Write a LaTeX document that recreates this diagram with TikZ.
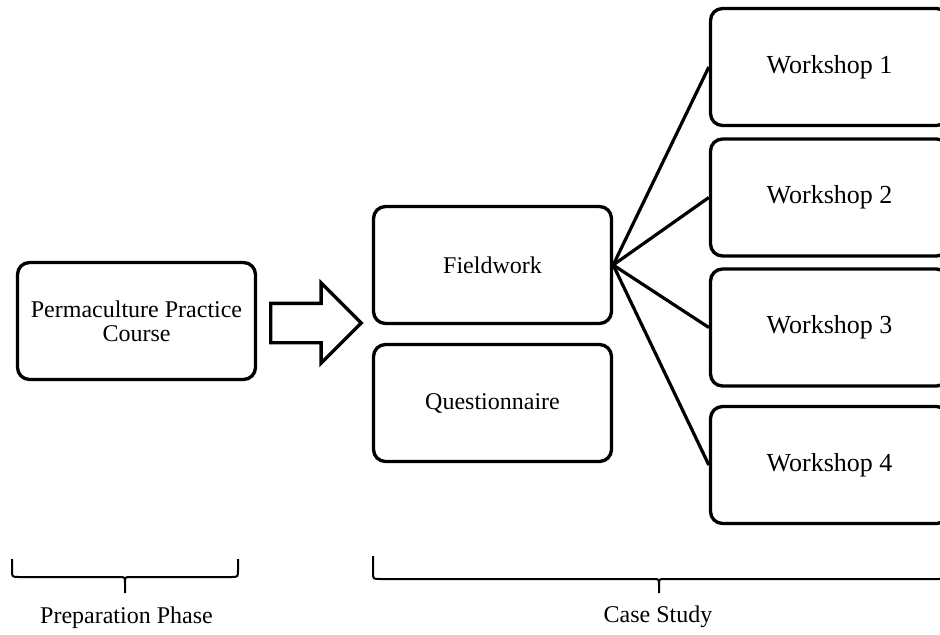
\documentclass[tikz,border=0pt]{standalone}
\usepackage{fontspec}
\setmainfont{Liberation Serif}
\usetikzlibrary{shapes.arrows}

\begin{document}
\begin{tikzpicture}[
  x=0.75pt,y=-0.75pt,
  font=\fontsize{18}{18}\selectfont,
  box/.style={draw=black,line width=2.5pt,rounded corners=9pt,align=center,
              minimum width=178.5pt,minimum height=87.75pt,inner sep=2pt},
  wsbox/.style={box,font=\fontsize{19.5}{19.5}\selectfont},
  link/.style={draw=black,line width=2.4pt},
  phase/.style={draw=black,line width=1.5pt},
  bigarrow/.style={single arrow,draw=black,line width=2.5pt,
                   inner xsep=0pt,inner ysep=13.5pt,
                   minimum height=68pt,single arrow head extend=15.4pt},
]
\useasboundingbox (0,0) rectangle (940,635);

% ---- boxes ----------------------------------------------------------------
\node[box] (course) at (136.5,321) {Permaculture Practice\\Course};
\node[bigarrow,anchor=tail] (step) at (269,323) {};

\node[box] (fw) at (492.5,265) {Fieldwork};
\node[box] (qs) at (492.5,403) {Questionnaire};

\node[wsbox] (ws1) at (829.5,67)    {Workshop 1};
\node[wsbox] (ws2) at (829.5,197.5) {Workshop 2};
\node[wsbox] (ws3) at (829.5,327.5) {Workshop 3};
\node[wsbox] (ws4) at (829.5,465)   {Workshop 4};

% ---- fan out from fieldwork -----------------------------------------------
\foreach \w in {ws1,ws2,ws3,ws4}
  \draw[link] (fw.east) -- (\w.west);

% ---- phase braces -----------------------------------------------------------
\draw[phase] (12,559) -- (12,570) .. controls (12,577) .. (19,577) -- (119,577)
  .. controls (125,577) .. (125,583) -- (125,593) -- (125,583)
  .. controls (125,577) .. (131,577) -- (231,577) .. controls (238,577) .. (238,570) -- (238,559);
\draw[phase] (373,556) -- (373,572) .. controls (373,579) .. (380,579) -- (653,579)
  .. controls (659,579) .. (659,585) -- (659,593) -- (659,585)
  .. controls (659,579) .. (665,579) -- (938,579) .. controls (945,579) .. (945,572) -- (945,556);

\node (prep) at (126.5,618) {Preparation Phase};
\node (case) at (658,617)   {Case Study};

\end{tikzpicture}
\end{document}
